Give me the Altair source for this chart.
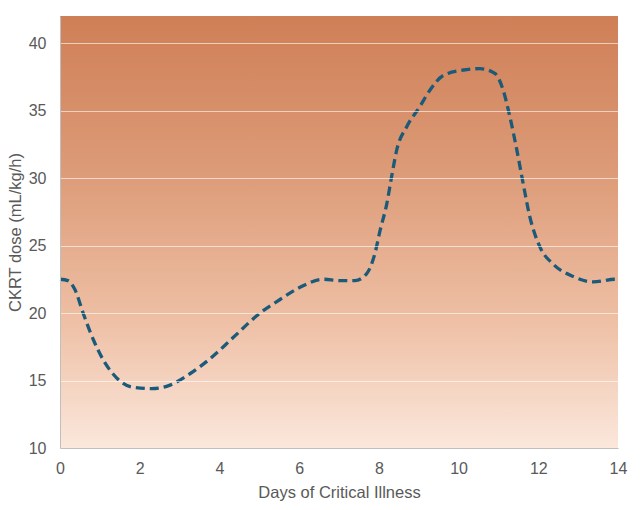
import altair as alt
import pandas as pd

# values
days = [0, 0.2, 0.38, 0.58, 0.84, 1.13, 1.42, 1.83, 2.3, 2.71, 3.26, 3.76,
        4.35, 5.02, 5.52, 6.02, 6.6, 7.02, 7.4, 7.69, 7.9, 8.03, 8.2, 8.32,
        8.45, 8.7, 9.03, 9.28, 9.62, 10.12, 10.54, 10.91, 11.12, 11.29,
        11.46, 11.62, 11.79, 12.04, 12.38, 12.88, 13.38, 13.92, 14]
dose = [22.5, 22.4, 21.7, 20.0, 18.0, 16.3, 15.2, 14.5, 14.4, 14.6, 15.5, 16.6,
        18.2, 20.0, 21.0, 21.9, 22.5, 22.4, 22.4, 22.9, 24.4, 26.1, 28.1, 30.1,
        32.1, 33.8, 35.3, 36.5, 37.6, 38.0, 38.1, 37.75, 36.5, 34.5,
        32.1, 29.6, 27.1, 24.9, 23.6, 22.7, 22.3, 22.5, 22.5]
x_ticks = [0, 2, 4, 6, 8, 10, 12, 14]
y_ticks = [10, 15, 20, 25, 30, 35, 40]

df = pd.DataFrame({"day": days, "dose": dose})

gradient = alt.Gradient(
    gradient="linear",
    stops=[
        alt.GradientStop(color="#fbe7dc", offset=0),
        alt.GradientStop(color="#eebfa4", offset=0.3),
        alt.GradientStop(color="#dc9a77", offset=0.65),
        alt.GradientStop(color="#cf7f56", offset=1),
    ],
    x1=1, x2=1, y1=1, y2=0,
)

background = (
    alt.Chart(alt.Data(values=[{}]))
    .mark_rect(fill=gradient)
    .encode(
        x=alt.value(0),
        x2=alt.value("width"),
        y=alt.value(0),
        y2=alt.value("height"),
    )
)

line = (
    alt.Chart(df)
    .mark_line(color="#1b5a78", strokeWidth=3.3, strokeDash=[9, 5],
               interpolate="monotone")
    .encode(
        x=alt.X("day:Q", title="Days of Critical Illness",
                scale=alt.Scale(domain=[0, 14], nice=False),
                axis=alt.Axis(values=x_ticks, grid=False, ticks=False,
                              labelFlush=False, labelPadding=12,
                              titlePadding=8, zindex=1)),
        y=alt.Y("dose:Q", title="CKRT dose (mL/kg/h)",
                scale=alt.Scale(domain=[10, 42], nice=False),
                axis=alt.Axis(values=y_ticks, ticks=False, grid=True,
                              gridColor="#ffffff", gridOpacity=0.6,
                              gridWidth=1.2, labelFlush=False,
                              labelPadding=14, titlePadding=5, zindex=1)),
    )
)

chart = (
    alt.layer(background, line)
    .properties(width=558, height=432,
                autosize=alt.AutoSizeParams(type="none"),
                padding={"left": 52, "top": 8, "right": 17, "bottom": 54})
    .configure_view(strokeWidth=0)
    .configure_axis(
        domainColor="#bfbfbf",
        labelFont="Liberation Sans",
        titleFont="Liberation Sans",
        labelFontSize=16,
        titleFontSize=16.5,
        labelColor="#595959",
        titleColor="#595959",
        titleFontWeight="normal",
    )
)

chart.save("out.html", embed_options={"renderer": "svg", "actions": False})
